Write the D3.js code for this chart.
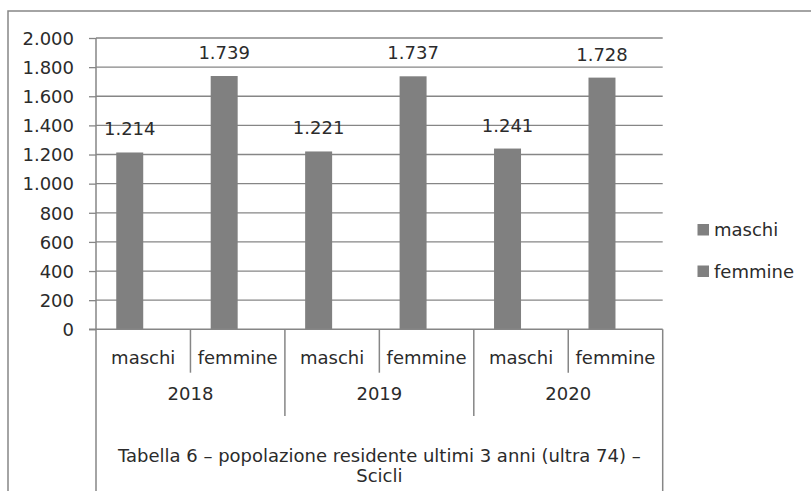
<!DOCTYPE html>
<html><head><meta charset="utf-8">
<script src="https://cdn.jsdelivr.net/npm/d3@7"></script>
<style>body{margin:0;background:#fff}svg{display:block}text{font-family:"DejaVu Sans",sans-serif;fill:#2b2b2b}</style>
</head><body><svg id="c" width="811" height="491"></svg>
<script>
const years = ["2018","2019","2020"];
const sexes = ["maschi","femmine"];
const seriesNames = ["maschi","femmine"];
const values = [1214, 1739, 1221, 1737, 1241, 1728];
const yTicks = [0,200,400,600,800,1000,1200,1400,1600,1800,2000];
const titleLines = ["Tabella 6 – popolazione residente ultimi 3 anni (ultra 74) –", "Scicli"];

const svg = d3.select("#c");
const gray = "#808080", lineCol = "#868686";
const fs = "18px";
const fmt = v => d3.format(",")(v).replace(/,/g, ".");

// outer frame
svg.append("rect").attr("x",8).attr("y",11).attr("width",830).attr("height",500)
  .attr("fill","none").attr("stroke",lineCol).attr("stroke-width",1.5);

const L = 96, R = 662.7, T = 38, B = 329.3;
const cats = [];
years.forEach(y => sexes.forEach(s => cats.push(y + "|" + s)));
const x = d3.scaleBand().domain(cats).range([L, R]).paddingInner(0).paddingOuter(0);
// gap width 150%: bandwidth = 2w + 1.5w, bar in first slot
const w = x.bandwidth() / 3.5;
const y = d3.scaleLinear().domain([0, 2000]).range([B, T]);

// gridlines
svg.append("g").selectAll("line").data(yTicks.filter(d=>d>0)).join("line")
  .attr("x1", L).attr("x2", R).attr("y1", d=>y(d)).attr("y2", d=>y(d))
  .attr("stroke", lineCol).attr("stroke-width", 1.3);

// y axis
const ya = svg.append("g").attr("transform", `translate(${L},0)`)
  .call(d3.axisLeft(y).tickValues(yTicks).tickFormat(fmt).tickSize(7).tickPadding(15));
ya.select(".domain").remove();
ya.selectAll(".tick line").attr("stroke", lineCol).attr("stroke-width",1.3);
ya.selectAll(".tick text").style("font-size",fs).style("font-family",null).attr("fill",null).attr("dy","0.35em");
svg.append("line").attr("x1",L).attr("x2",L).attr("y1",T).attr("y2",491)
  .attr("stroke",lineCol).attr("stroke-width",1.5);

// bars
const bars = cats.map((c,i)=>({c, v: values[i]}));
svg.append("g").selectAll("rect").data(bars).join("rect")
  .attr("x", d => x(d.c) + 0.75*w)
  .attr("width", w)
  .attr("y", d => y(d.v))
  .attr("height", d => B - y(d.v))
  .attr("fill", gray);
svg.append("g").selectAll("text").data(bars).join("text")
  .attr("x", d => x(d.c) + 1.25*w)
  .attr("y", d => y(d.v) - 17)
  .attr("text-anchor","middle").style("font-size",fs).text(d => fmt(d.v));

// x axis baseline
svg.append("line").attr("x1",L-7).attr("x2",R).attr("y1",B).attr("y2",B)
  .attr("stroke",lineCol).attr("stroke-width",1.5);

// category separators
const sub = svg.append("g");
cats.forEach((c,i) => {
  const xr = x(c) + x.bandwidth();
  const last = i === cats.length-1;
  const yearEnd = (i % 2) === 1;
  const y2 = last ? 491 : (yearEnd ? 416 : 372.7);
  sub.append("line").attr("x1",xr).attr("x2",xr).attr("y1",B).attr("y2",y2)
    .attr("stroke",lineCol).attr("stroke-width",1.5);
});
// sub labels
svg.append("g").selectAll("text").data(cats).join("text")
  .attr("x", d => x(d) + x.bandwidth()/2).attr("y", 358).attr("dy","0.35em")
  .attr("text-anchor","middle").style("font-size",fs).text(d => d.split("|")[1]);
// year labels
svg.append("g").selectAll("text").data(years).join("text")
  .attr("x", d => x(d+"|maschi") + x.bandwidth()).attr("y", 394).attr("dy","0.35em")
  .attr("text-anchor","middle").style("font-size",fs).text(d => d);
// title lines
svg.append("g").selectAll("text").data(titleLines).join("text")
  .attr("x", (L+R)/2).attr("y", (d,i)=> 456 + i*19.5).attr("dy","0.35em")
  .attr("text-anchor","middle").style("font-size",fs).text(d => d);

// legend
const lg = svg.append("g").selectAll("g").data(seriesNames).join("g")
  .attr("transform", (d,i)=>`translate(697.5,${230 + i*41.5})`);
lg.append("rect").attr("x",0).attr("y",-6).attr("width",11.5).attr("height",11.5).attr("fill",gray);
lg.append("text").attr("x",16.5).attr("y",0).attr("dy","0.35em").style("font-size",fs).text(d=>d);
</script></body></html>
